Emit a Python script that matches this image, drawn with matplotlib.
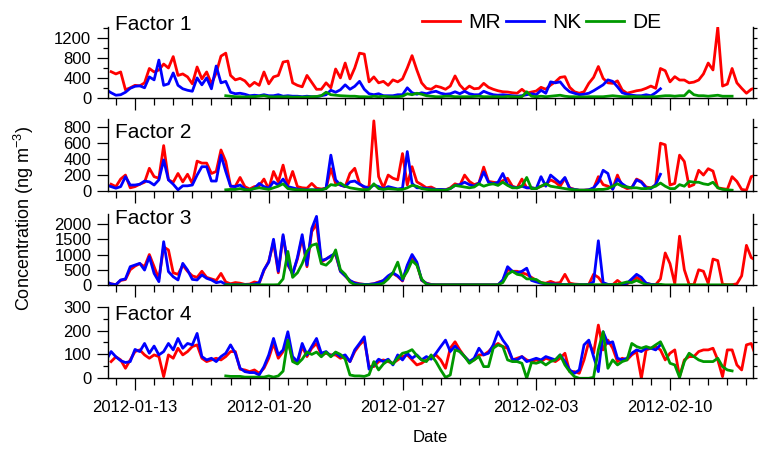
import numpy as np
import pandas as pd
import matplotlib
matplotlib.use('Agg')
import matplotlib.pyplot as plt
import matplotlib.dates as mdates
from matplotlib.ticker import MultipleLocator

plt.rcParams['font.family'] = ['Liberation Sans', 'DejaVu Sans']
plt.rcParams['mathtext.fontset'] = 'custom'
plt.rcParams['mathtext.rm'] = 'Liberation Sans'
plt.rcParams['mathtext.default'] = 'regular'

# 6시간 간격 농도 (ng m-3), 사이트별 시작 시각
mrStart = '2012-01-11 18:00'
nkStart = '2012-01-11 12:00'
deStart = '2012-01-17 18:00'

# Factor 1
mrF1 = [525, 480, 520, 160, 200, 250, 240, 300, 590, 520, 560, 680, 600, 830, 450, 480,
        420, 280, 620, 380, 520, 280, 500, 840, 900, 450, 360, 390, 340, 230, 310, 250,
        520, 280, 420, 450, 720, 740, 300, 250, 220, 450, 310, 170, 170, 300, 200, 580,
        400, 700, 380, 600, 900, 880, 320, 420, 300, 330, 250, 360, 320, 380, 600, 850, 560,
        300, 190, 170, 235, 210, 170, 235, 440, 255, 155, 235, 180, 190, 290, 210, 170,
        140, 120, 115, 100, 90, 170, 90, 115, 135, 210, 170, 255, 320, 410, 425, 210,
        120, 90, 120, 290, 410, 630, 390, 300, 290, 340, 155, 90, 115, 140, 155, 190,
        235, 190, 590, 545, 320, 425, 357, 357, 300, 315, 357, 480, 700, 560, 1420, 235,
        275, 590, 300, 190, 90, 170, 200]
nkF1 = [160, 100, 50, 60, 110, 190, 230, 240, 200, 420, 360, 760, 250, 280, 500, 250,
        180, 150, 130, 400, 260, 400, 180, 640, 300, 330, 110, 80, 90, 70, 40, 50,
        40, 60, 40, 40, 60, 30, 40, 30, 30, 20, 30, 20, 20, 40, 60, 150,
        110, 160, 260, 170, 230, 330, 170, 80, 60, 80, 40, 40, 40, 60, 60, 200, 100, 70,
        100, 80, 110, 130, 90, 70, 80, 120, 80, 130, 80, 60, 60, 130, 90, 60,
        50, 60, 50, 40, 30, 40, 60, 80, 60, 150, 90, 320, 300, 320, 200, 120,
        90, 60, 70, 90, 140, 200, 260, 360, 330, 220, 100, 70, 50, 40, 40, 60,
        40, 100, 180]
deF1 = [40, 30, 20, 20, 15, 20, 20, 30, 40, 20, 15, 20, 15, 20, 10, 15, 10, 15, 20, 25,
        40, 110, 60, 50, 40, 35, 30, 30, 20, 20, 15, 30, 20, 30, 20, 15, 20, 30, 80, 60, 90,
        70, 40, 30, 20, 20, 30, 30, 20, 20, 20, 20, 25, 30, 20, 20, 20,
        20, 15, 25, 20, 15, 20, 120, 30, 20, 30, 20, 30, 40, 50, 30, 20,
        20, 15, 15, 20, 20, 20, 20, 30, 40, 30, 20, 20, 25, 20, 20, 15,
        20, 20, 30, 40, 40, 30, 40, 40, 140, 60, 40, 40, 30, 40, 50, 30, 30, 30]

# Factor 2
mrF2 = [85, 55, 150, 200, 40, 55, 85, 110, 285, 180, 160, 570, 140, 110, 220, 115,
        210, 95, 375, 350, 350, 220, 245, 515, 370, 60, 60, 170, 55, 25, 55, 65,
        150, 25, 245, 115, 325, 75, 245, 55, 40, 35, 95, 35, 25, 35, 280, 95,
        75, 55, 220, 285, 95, 40, 55, 880, 180, 40, 200, 160, 140, 470, 75, 305, 115,
        80, 40, 50, 20, 20, 15, 40, 90, 70, 200, 120, 80, 100, 300, 120, 110,
        100, 130, 160, 60, 40, 150, 40, 40, 30, 60, 80, 140, 110, 60, 160, 40,
        20, 10, 10, 15, 30, 180, 80, 60, 30, 200, 60, 30, 40, 150, 120, 50,
        40, 75, 600, 580, 75, 95, 450, 370, 55, 80, 260, 200, 280, 250, 40, 30,
        20, 180, 120, 20, 10, 180, 200]
nkF2 = [75, 55, 35, 55, 180, 75, 75, 85, 125, 115, 75, 140, 390, 140, 85, 15,
        65, 65, 75, 200, 305, 305, 125, 125, 450, 245, 60, 55, 75, 25, 10, 35,
        95, 55, 35, 115, 75, 150, 55, 40, 25, 15, 15, 15, 15, 15, 35, 450,
        140, 75, 55, 115, 125, 85, 55, 35, 75, 55, 25, 55, 40, 25, 35, 495, 95, 40,
        40, 30, 25, 20, 20, 15, 30, 70, 80, 110, 80, 60, 100, 240, 110, 90,
        110, 220, 80, 50, 40, 60, 40, 40, 30, 180, 60, 200, 150, 100, 170, 30,
        20, 10, 10, 15, 40, 110, 260, 220, 20, 150, 90, 50, 40, 140, 110, 40,
        30, 80, 210]
deF2 = [15, 20, 20, 30, 15, 15, 30, 40, 30, 20, 40, 60, 90, 30, 20, 15, 15, 10, 15, 10,
        15, 30, 80, 70, 100, 60, 40, 30, 20, 15, 20, 90, 30, 20, 30, 25, 20, 20, 40, 70, 60,
        30, 20, 15, 15, 10, 10, 30, 70, 60, 50, 40, 50, 90, 60, 80, 90,
        70, 110, 70, 40, 40, 60, 170, 30, 30, 60, 90, 60, 50, 40, 30, 20,
        15, 10, 10, 10, 15, 20, 20, 30, 60, 90, 60, 50, 40, 40, 30, 30,
        40, 60, 100, 60, 30, 30, 80, 60, 120, 110, 110, 90, 80, 110, 40, 20, 15, 10]

# Factor 3
mrF3 = [40, 10, 150, 180, 500, 620, 700, 600, 1000, 600, 200, 1250, 1150, 400, 350, 650,
        450, 300, 250, 450, 250, 200, 150, 380, 100, 40, 80, 60, 20, 30, 100, 60,
        480, 780, 1400, 400, 1600, 650, 380, 850, 1550, 600, 1750, 2000, 750, 850, 950, 1000,
        450, 300, 120, 80, 40, 20, 20, 40, 100, 140, 280, 380, 280, 130, 600, 900, 700,
        150, 60, 20, 10, 10, 10, 10, 10, 10, 10, 10, 10, 10, 10, 10, 10,
        10, 150, 500, 450, 450, 400, 350, 250, 150, 80, 60, 120, 60, 80, 350, 60,
        30, 20, 10, 20, 350, 250, 40, 10, 10, 150, 30, 40, 120, 250, 150, 60,
        20, 10, 200, 1050, 700, 40, 1600, 500, 20, 10, 500, 450, 50, 850, 800, 20,
        10, 10, 40, 300, 1300, 900, 800]
nkF3 = [110, 35, 10, 165, 200, 600, 655, 710, 490, 930, 380, 110, 1420, 440, 270, 165,
        710, 490, 185, 165, 330, 220, 165, 75, 110, 20, 10, 10, 10, 10, 10, 30,
        80, 500, 750, 1500, 450, 1650, 700, 350, 900, 1650, 650, 1850, 2250, 800, 850, 950,
        1050, 450, 300, 150, 60, 30, 20, 20, 40, 80, 150, 300, 400, 300, 150, 650, 1000, 750,
        165, 50, 10, 5, 5, 5, 5, 5, 5, 5, 5, 5, 5, 5, 5, 5,
        5, 165, 600, 450, 400, 450, 550, 150, 100, 60, 40, 40, 30, 20, 15, 15,
        10, 10, 10, 20, 100, 1450, 80, 20, 10, 10, 10, 60, 200, 350, 250, 60,
        20, 10, 10]
deF3 = [5, 5, 5, 5, 5, 5, 5, 5, 5, 5, 5, 10, 200, 1100, 250, 400, 700, 1100, 1300, 1350,
        700, 650, 800, 1150, 500, 350, 100, 10, 5, 5, 5, 5, 20, 60, 200, 400, 750, 200, 450, 800, 650,
        200, 20, 5, 5, 5, 5, 5, 5, 5, 5, 5, 5, 5, 5, 5, 5,
        5, 80, 350, 450, 350, 320, 200, 200, 180, 80, 40, 10, 10, 10, 10, 10,
        10, 10, 10, 10, 10, 10, 10, 10, 10, 20, 60, 100, 80, 150, 80, 10,
        5, 5, 20, 5, 5, 5, 5, 5, 5, 5, 5, 5, 5, 5, 5, 5, 5, 5]

# Factor 4
mrF4 = [70, 90, 77, 42, 77, 112, 119, 98, 84, 98, 91, 7, 98, 84, 126, 98,
        112, 133, 140, 84, 70, 77, 84, 77, 91, 112, 112, 38, 35, 28, 35, 21,
        42, 84, 146, 84, 112, 160, 77, 63, 133, 91, 126, 146, 98, 105, 98, 98,
        84, 91, 70, 112, 140, 160, 49, 49, 70, 77, 70, 63, 77, 91, 98, 77, 56,
        63, 77, 84, 98, 77, 42, 126, 153, 119, 91, 70, 77, 98, 98, 112, 133,
        146, 133, 126, 77, 84, 91, 77, 70, 77, 70, 84, 77, 70, 84, 105, 28,
        28, 21, 77, 153, 105, 223, 119, 160, 126, 70, 84, 77, 98, 112, 0, 119,
        126, 133, 119, 77, 105, 119, 7, 77, 91, 91, 112, 119, 119, 126, 77, 7,
        119, 119, 56, 35, 140, 146, 91]
nkF4 = [77, 112, 90, 74, 66, 70, 121, 112, 146, 105, 135, 98, 112, 146, 119, 167,
        126, 146, 140, 188, 91, 77, 84, 70, 91, 105, 140, 105, 42, 28, 24, 24,
        14, 49, 98, 167, 98, 119, 195, 91, 70, 146, 98, 133, 167, 105, 112, 93,
        107, 91, 98, 70, 119, 146, 174, 38, 56, 80, 70, 80, 56, 98, 77, 105, 84, 98,
        77, 91, 80, 105, 133, 160, 112, 135, 112, 91, 70, 84, 126, 98, 105, 140,
        195, 160, 133, 80, 77, 91, 70, 77, 84, 77, 91, 84, 77, 98, 70, 35,
        21, 35, 140, 160, 91, 28, 195, 146, 153, 84, 77, 84, 105, 119, 112, 126,
        126, 119, 140]
deF4 = [10, 8, 8, 8, 5, 5, 5, 5, 5, 10, 5, 10, 30, 160, 70, 60, 80, 110, 100, 110,
        90, 110, 90, 110, 100, 80, 14, 10, 10, 8, 15, 70, 35, 60, 75, 60, 85, 105, 110, 120, 95,
        77, 70, 98, 70, 35, 4, 14, 119, 112, 91, 63, 77, 91, 49, 49, 126,
        140, 133, 77, 70, 70, 63, 0, 66, 63, 70, 56, 70, 77, 98, 56, 28,
        7, 0, 0, 0, 4, 120, 195, 42, 77, 56, 70, 77, 146, 133, 126, 133,
        126, 140, 153, 112, 63, 56, 4, 70, 105, 91, 77, 70, 70, 70, 84, 49, 35, 31]

sites = ['MR', 'NK', 'DE']
starts = [mrStart, nkStart, deStart]
siteColor = ['#ff0000', '#0000ff', '#009900']
factorData = [[mrF1, nkF1, deF1], [mrF2, nkF2, deF2],
              [mrF3, nkF3, deF3], [mrF4, nkF4, deF4]]

# 패널 배치 (픽셀 단위, 위에서부터)
W, H = 758, 449
panelTop = [26.7, 119.3, 214.0, 306.7]
panelBot = [97.7, 191.0, 285.0, 378.3]
yMax = [1434, 900, 2328, 300]
yMajor = [400, 200, 500, 100]
yMinor = [200, 0, 0, 50]
rightStep = [200, 200, 500, 50]
textBase = [30.5, 138.3, 223.8, 319.5]

xLeft = pd.Timestamp('2012-01-11 14:05')
xRight = pd.Timestamp('2012-02-14 08:15')
majorDays = pd.date_range('2012-01-13', periods=5, freq='7D')
minorDays = pd.date_range('2012-01-12', '2012-02-14', freq='D')

fig = plt.figure(figsize=(W / 100, H / 100), dpi=100)
axes = []
for i in range(4):
    ax = fig.add_axes([108 / W, 1 - panelBot[i] / H, 645 / W, (panelBot[i] - panelTop[i]) / H])
    for j in range(3):
        vals = factorData[i][j]
        t = pd.date_range(starts[j], periods=len(vals), freq='6h')
        ax.plot(t, vals, color=siteColor[j], lw=2.0, label=sites[j])

    ax.set_xlim(xLeft, xRight)
    ax.set_ylim(0, yMax[i])
    ax.set_xticks(majorDays)
    ax.set_xticks(minorDays, minor=True)
    ax.xaxis.set_major_formatter(mdates.DateFormatter('%Y-%m-%d'))
    ax.yaxis.set_major_locator(MultipleLocator(yMajor[i]))
    if yMinor[i]:
        ax.yaxis.set_minor_locator(MultipleLocator(yMinor[i]))

    ax.spines['top'].set_visible(False)
    ax.spines['right'].set_visible(False)
    for s in ['left', 'bottom']:
        ax.spines[s].set_linewidth(1.0)
    ax.tick_params(axis='x', which='major', direction='out', length=8.8, width=0.9,
                   labelsize=12, pad=7, labelbottom=(i == 3))
    ax.tick_params(axis='x', which='minor', direction='out', length=5, width=0.9)
    ax.tick_params(axis='y', which='major', direction='out', length=8, width=0.9,
                   labelsize=12, pad=4)
    ax.tick_params(axis='y', which='minor', direction='out', length=3.6, width=0.9)

    # 오른쪽 축: 라벨 없는 짧은 눈금
    sec = ax.secondary_yaxis('right')
    sec.set_yticks(np.arange(0, yMax[i], rightStep[i]))
    sec.tick_params(length=3, width=0.9, labelright=False)
    sec.spines['right'].set_linewidth(1.0)

    fig.text(115 / W, 1 - textBase[i] / H, 'Factor %d' % (i + 1), fontsize=15, va='baseline')
    axes.append(ax)

fig.legend(handles=axes[0].get_lines(), labels=sites, loc='center left',
           bbox_to_anchor=(421.7 / W, 1 - 22.3 / H), ncol=3, frameon=False, fontsize=15,
           handlelength=1.84, handletextpad=0.38, columnspacing=0.24,
           borderpad=0, borderaxespad=0)

fig.text(24 / W, 1 - 218.5 / H, 'Concentration (ng m$^{-3}$)', rotation=90,
         ha='center', va='center', fontsize=13)
fig.text(430.5 / W, 1 - 438 / H, 'Date', ha='center', va='center', fontsize=12)

fig.savefig('out.png', dpi=100)
